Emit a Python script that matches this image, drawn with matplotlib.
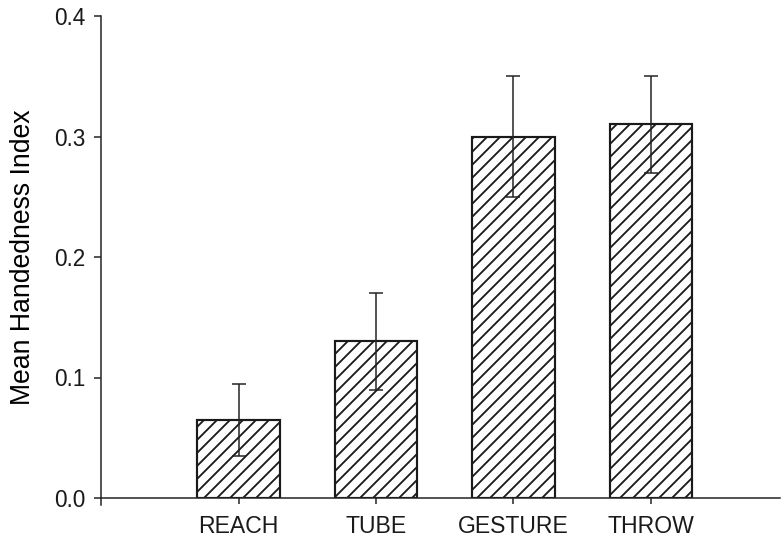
import matplotlib
matplotlib.use("Agg")
import matplotlib.pyplot as plt

categories = ["REACH", "TUBE", "GESTURE", "THROW"]
means = [0.065, 0.130, 0.300, 0.310]
errors = [0.030, 0.040, 0.050, 0.040]
yticks = [0.0, 0.1, 0.2, 0.3, 0.4]
ytick_labels = ["0.0", "0.1", "0.2", "0.3", "0.4"]

DPI = 156
plt.rcParams['font.family'] = ['Liberation Sans', 'DejaVu Sans']
plt.rcParams['hatch.linewidth'] = 0.85
plt.rcParams['hatch.color'] = 'black'

fig = plt.figure(figsize=(781 / DPI, 541 / DPI), dpi=DPI)
ax = fig.add_axes([100.7 / 781, 43 / 541, (780 - 100.7) / 781, 482 / 541])

positions = list(range(1, len(categories) + 1))
ax.bar(positions, means, width=0.6, color='white', edgecolor='#1a1a1a',
       linewidth=1.0, hatch='////', zorder=2)
ax.errorbar(positions, means, yerr=errors, fmt='none', ecolor='#222222',
            elinewidth=0.7, capsize=3.4, capthick=0.7, zorder=3)

ax.set_xlim(-0.003, 4.94)
ax.set_ylim(0, 0.4)
ax.set_xticks(positions)
ax.set_xticklabels(categories, fontsize=10.6)
ax.set_yticks(yticks)
ax.set_yticklabels(ytick_labels, fontsize=10.4)
ax.set_ylabel("Mean Handedness Index", fontsize=12.3, labelpad=8)

for s in ['top', 'right']:
    ax.spines[s].set_visible(False)
ax.spines['left'].set_bounds(-0.0058, 0.4)
ax.spines['left'].set_linewidth(0.7)
ax.spines['bottom'].set_linewidth(0.7)
ax.spines['left'].set_color('#222222')
ax.spines['bottom'].set_color('#222222')
ax.tick_params(axis='y', direction='out', length=3.2, width=0.7, pad=4.0, colors='#222222', labelcolor='#1a1a1a')
ax.tick_params(axis='x', direction='out', length=2.8, width=0.7, pad=5.0, colors='#222222', labelcolor='#1a1a1a')

fig.savefig("out.png", dpi=DPI)
